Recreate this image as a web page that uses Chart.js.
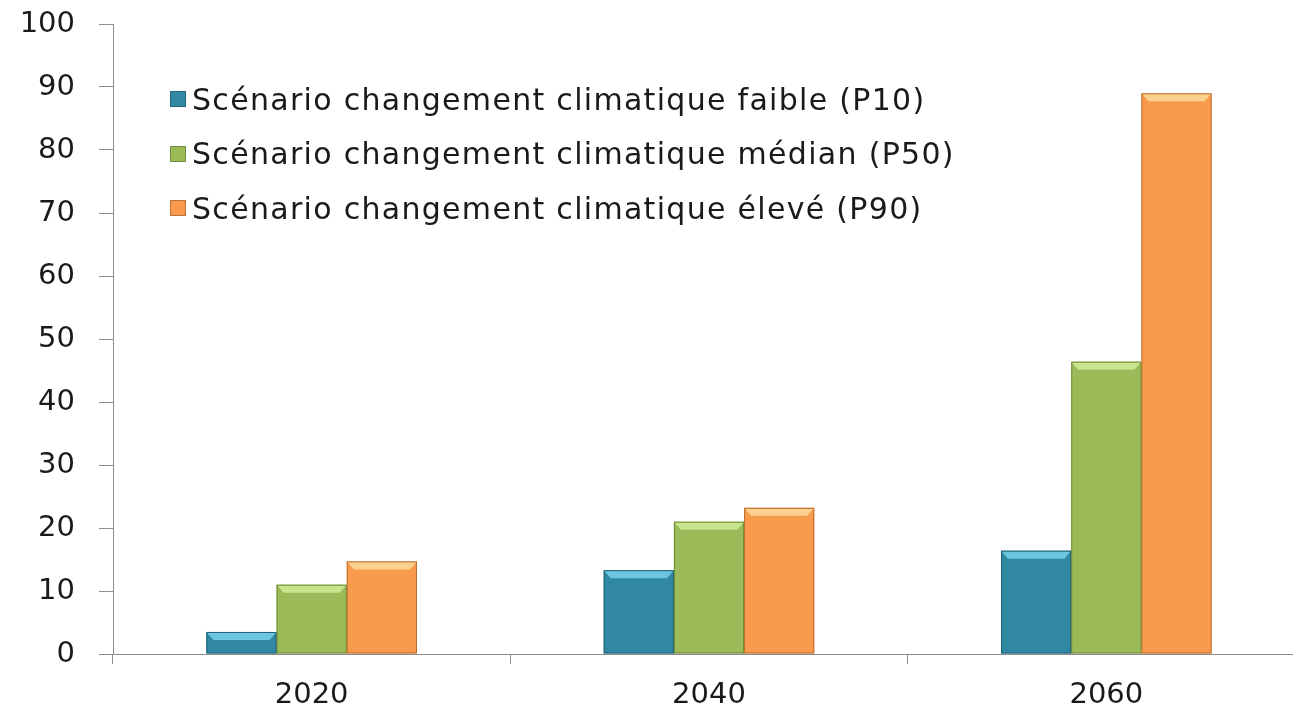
<!DOCTYPE html>
<html lang="fr">
<head>
  <meta charset="UTF-8" />
  <title>Scénarios changement climatique</title>
  <script src="https://cdn.jsdelivr.net/npm/chart.js"></script>
  <style>
    * { margin: 0; padding: 0; box-sizing: border-box; }
    html, body { width: 1293px; height: 713px; overflow: hidden; background: #fff; }
    .wrap { position: relative; width: 1320px; height: 713px; }
    .legend {
      position: absolute; left: 170px; top: 72px;
      font-family: 'DejaVu Sans', sans-serif; font-size: 30px; letter-spacing: 1.3px; color: #1a1a1a;
    }
    .legend-item { display: flex; align-items: center; height: 54.5px; white-space: nowrap; }
    .legend-color { width: 16px; height: 16px; margin-right: 6px; border: 1px solid rgba(0,0,0,0.25); }
  </style>
</head>
<body>
<div class="wrap">
  <canvas id="chart" width="1320" height="713"></canvas>
  <div class="legend" id="legend"></div>
</div>
<script>
const years = ["2020", "2040", "2060"];
const seriesNames = [
  "Scénario changement climatique faible (P10)",
  "Scénario changement climatique médian (P50)",
  "Scénario changement climatique élevé (P90)"
];
const p10 = [3.5, 13.3, 16.4];
const p50 = [11, 21, 46.4];
const p90 = [14.7, 23.2, 89];

const fills = ["#3188a3", "#9bbb59", "#f89b4c"];
const lights = ["#6cc6e0", "#c8e48c", "#fcd08e"];
const darks = ["#1f5f73", "#6d8a38", "#b8702f"];
const axisFont = { family: "'DejaVu Sans', sans-serif", size: 29 };

// side shading so the bars look bevelled
function sideGradient(ctx, i) {
  const el = ctx.element;
  if (!el || el.width === undefined) return fills[i];
  const left = el.x - el.width / 2;
  const g = ctx.chart.ctx.createLinearGradient(left, 0, left + el.width, 0);
  g.addColorStop(0, darks[i]);
  g.addColorStop(0.08, fills[i]);
  g.addColorStop(0.92, fills[i]);
  g.addColorStop(1, darks[i]);
  return g;
}

const bevelPlugin = {
  id: "bevel",
  afterDatasetsDraw(chart) {
    const c = chart.ctx;
    chart.data.datasets.forEach((ds, i) => {
      chart.getDatasetMeta(i).data.forEach(bar => {
        const l = bar.x - bar.width / 2, r = bar.x + bar.width / 2;
        const t = bar.y, h = Math.min(8, (bar.base - bar.y) / 2);
        c.save();
        c.fillStyle = lights[i];
        c.beginPath();
        c.moveTo(l, t);
        c.lineTo(r, t);
        c.lineTo(r - 7, t + h);
        c.lineTo(l + 7, t + h);
        c.closePath();
        c.fill();
        c.strokeStyle = darks[i];
        c.lineWidth = 1;
        c.strokeRect(l + 0.5, t + 0.5, bar.width - 1, bar.base - t - 1);
        c.restore();
      });
    });
  }
};

const datasets = [p10, p50, p90].map((values, i) => ({
  label: seriesNames[i],
  data: values,
  backgroundColor: ctx => sideGradient(ctx, i),
  borderWidth: 0,
  categoryPercentage: 0.53,
  barPercentage: 1.0
}));

new Chart(document.getElementById("chart"), {
  type: "bar",
  data: { labels: years, datasets: datasets },
  plugins: [bevelPlugin],
  options: {
    responsive: false,
    animation: false,
    layout: { padding: { top: 24, right: 15, left: 0, bottom: 0 } },
    plugins: { legend: { display: false }, tooltip: { enabled: false } },
    scales: {
      y: {
        min: 0, max: 100,
        ticks: { stepSize: 10, padding: 24, color: "#1a1a1a", font: axisFont },
        grid: { drawOnChartArea: false, tickLength: 14, color: "#8c8c8c" },
        border: { color: "#8c8c8c" },
        afterFit: s => { s.width = 113; s.paddingTop = 0; s.paddingBottom = 0; }
      },
      x: {
        ticks: { padding: 14, color: "#1a1a1a", font: axisFont },
        grid: { drawOnChartArea: false, tickLength: 10, color: "#8c8c8c" },
        border: { color: "#8c8c8c" },
        afterFit: s => { s.height = 59; }
      }
    }
  }
});

// legend drawn as html over the plot area
const legend = document.getElementById("legend");
seriesNames.forEach((name, i) => {
  const item = document.createElement("div");
  item.className = "legend-item";
  item.innerHTML = `<span class="legend-color" style="background:${fills[i]}"></span><span>${name}</span>`;
  legend.appendChild(item);
});
</script>
</body>
</html>
